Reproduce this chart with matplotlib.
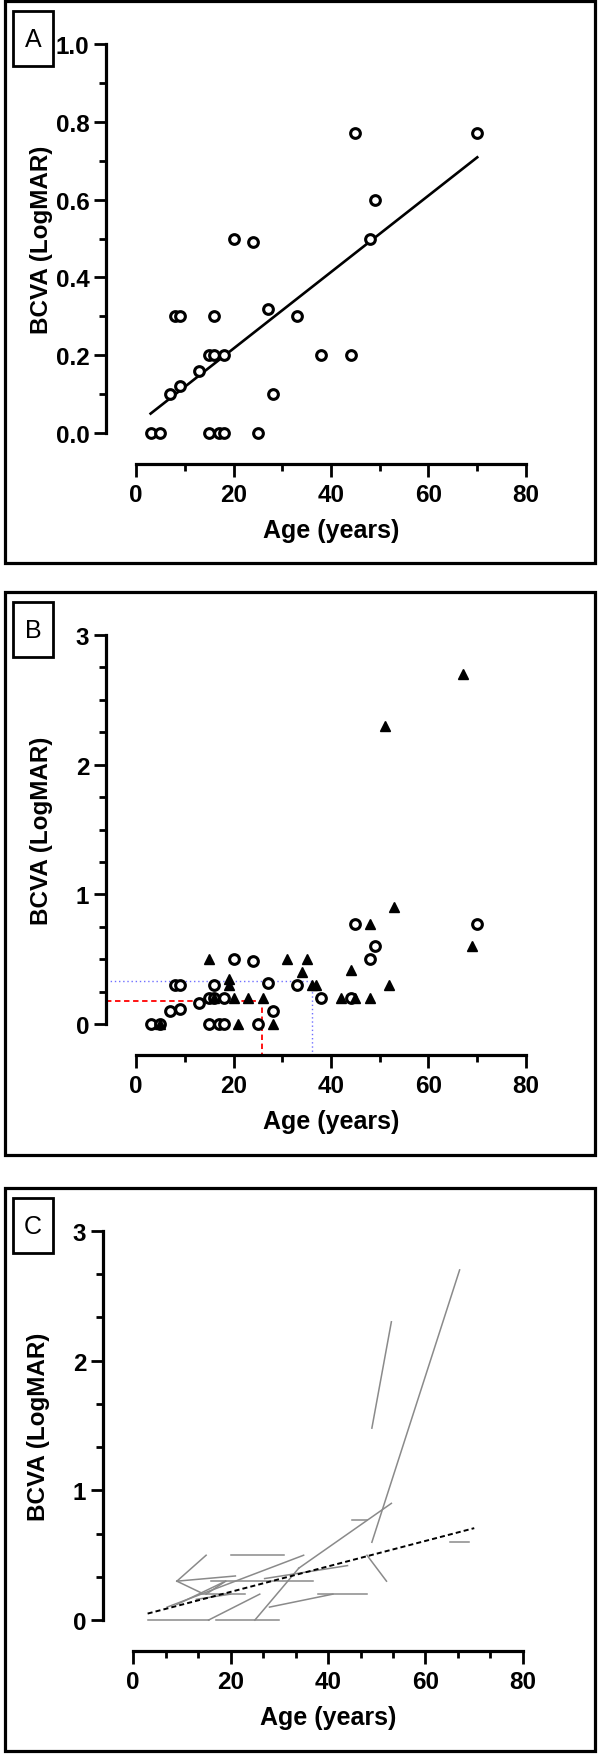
import matplotlib
matplotlib.use("Agg")

import matplotlib.pyplot as plt
import numpy as np
from matplotlib.patches import Rectangle
from matplotlib.ticker import MultipleLocator, FormatStrFormatter

plt.rcParams["font.family"] = ["Liberation Sans", "DejaVu Sans"]
plt.rcParams["font.weight"] = "bold"
plt.rcParams["axes.labelweight"] = "bold"

# first visit (panel A, circles in panel B)
age_first = [3, 5, 7, 8, 9, 9, 13, 15, 16, 16, 18, 15, 17, 18, 20, 24, 25,
             27, 28, 33, 38, 44, 45, 48, 49, 70]
bcva_first = [0.0, 0.0, 0.1, 0.3, 0.3, 0.12, 0.16, 0.2, 0.2, 0.3, 0.2, 0.0, 0.0,
              0.0, 0.5, 0.49, 0.0, 0.32, 0.1, 0.3, 0.2, 0.2, 0.77, 0.5, 0.6, 0.77]

# last visit (triangles in panel B)
age_last = [5, 21, 28, 15, 31, 35, 19, 19, 16, 20, 23, 26, 34, 36, 37, 42, 44,
            45, 48, 48, 52, 53, 51, 67, 69]
bcva_last = [0.0, 0.0, 0.0, 0.5, 0.5, 0.5, 0.35, 0.3, 0.2, 0.2, 0.2, 0.2, 0.4,
             0.3, 0.3, 0.2, 0.42, 0.2, 0.2, 0.77, 0.3, 0.9, 2.3, 2.7, 0.6]

# guide lines in panel B: (age, bcva)
guide_first = (25.9, 0.177)
guide_last = (36.2, 0.33)

# panel C: one segment per eye, start -> end
seg_age_start = [3, 15.5, 17, 25, 34, 28, 38, 9, 9, 9, 14, 7, 16, 27, 15, 20,
                 45, 48, 49, 49, 65, 9, 13]
seg_bcva_start = [0.0, 0.0, 0.0, 0.0, 0.4, 0.1, 0.2, 0.3, 0.3, 0.3, 0.2, 0.1, 0.3,
                  0.32, 0.2, 0.5, 0.77, 0.5, 0.6, 1.48, 0.6, 0.12, 0.16]
seg_age_end = [15.5, 26, 30, 34, 53, 41, 48, 15, 21, 14, 23, 35, 37, 44, 19, 31,
               48, 52, 67, 53, 69, 19, 20]
seg_bcva_end = [0.0, 0.2, 0.0, 0.4, 0.9, 0.2, 0.2, 0.5, 0.34, 0.21, 0.2, 0.5, 0.3,
                0.42, 0.3, 0.5, 0.77, 0.3, 2.7, 2.3, 0.6, 0.3, 0.2]

x_major = [0, 20, 40, 60, 80]
y_major_a = [0.0, 0.2, 0.4, 0.6, 0.8, 1.0]
y_major_bc = [0, 1, 2, 3]

W, H = 600, 1756
PX_PER_YEAR = 4.875

fig = plt.figure(figsize=(6, 17.56), dpi=100)


def px_box(left, top, right, bottom):
    return [left / W, 1 - bottom / H, (right - left) / W, (bottom - top) / H]


def panel_frame(top, bottom, letter):
    # outer frame of the panel and the boxed letter
    fig.add_artist(Rectangle((5 / W, 1 - bottom / H), 590 / W, (bottom - top) / H,
                             transform=fig.transFigure, fill=False,
                             edgecolor="black", linewidth=2.3))
    fig.add_artist(Rectangle((13 / W, 1 - (top + 65) / H), 40 / W, 55 / H,
                             transform=fig.transFigure, fill=False,
                             edgecolor="black", linewidth=2.0))
    fig.text(33 / W, 1 - (top + 38) / H, letter, ha="center", va="center",
             fontsize=18, fontweight="normal")


def make_axes(top, left, ymax, y_px_per_unit, y_minor, x_minor):
    ax = fig.add_axes(px_box(left, top + 43, left + 420, top + 463))
    ax.set_xlim(-30 / PX_PER_YEAR, 80)
    ax.set_ylim(-31 / y_px_per_unit, ymax)
    ax.patch.set_alpha(0)

    for side in ["top", "right"]:
        ax.spines[side].set_visible(False)
    ax.spines["left"].set_bounds(0, ymax)
    ax.spines["bottom"].set_bounds(0, 80)
    for side in ["left", "bottom"]:
        ax.spines[side].set_linewidth(2.3)

    ax.set_xticks(x_major)
    ax.xaxis.set_minor_locator(MultipleLocator(x_minor))
    ax.yaxis.set_minor_locator(MultipleLocator(y_minor))
    ax.tick_params(which="major", length=9, width=2.0, labelsize=17.5)
    ax.tick_params(which="minor", length=4.8, width=2.0)
    ax.tick_params(axis="x", which="major", pad=5)
    ax.tick_params(axis="y", which="major", pad=3)

    ax.set_xlabel("Age (years)", fontsize=18, va="center")
    ax.set_ylabel("BCVA (LogMAR)", fontsize=17.5, va="center")
    ax.xaxis.set_label_coords((40 + 30 / PX_PER_YEAR) / (80 + 30 / PX_PER_YEAR), -66 / 420)
    ax.yaxis.set_label_coords(-64 / 420, (463 - 237.5) / 420)
    return ax


circle_style = dict(linestyle="none", marker="o", markersize=7,
                    markerfacecolor="white", markeredgecolor="black",
                    markeredgewidth=2.2, clip_on=False, zorder=3)
triangle_style = dict(linestyle="none", marker="^", markersize=7.5,
                      color="black", clip_on=False, zorder=4)

# linear fit of the first-visit data (panel A and dashed line in C)
slope, intercept = np.polyfit(age_first, bcva_first, 1)
fit_x = np.array([min(age_first), max(age_first)])
fit_y = slope * fit_x + intercept

# ---- panel A ----
top_a = 2
panel_frame(top_a, 564, "A")
ax_a = make_axes(top_a, 106, 1.0, 390, 0.1, 10)
ax_a.set_yticks(y_major_a)
ax_a.yaxis.set_major_formatter(FormatStrFormatter("%.1f"))
ax_a.plot(fit_x, fit_y, color="black", linewidth=1.9, zorder=2)
ax_a.plot(age_first, bcva_first, **circle_style)

# ---- panel B ----
top_b = 593
panel_frame(top_b, 1156, "B")
ax_b = make_axes(top_b, 106, 3, 130, 0.25, 10)
ax_b.set_yticks(y_major_bc)
x0, y0 = ax_b.get_xlim()[0], ax_b.get_ylim()[0]
ax_b.plot([x0, guide_first[0], guide_first[0]], [guide_first[1], guide_first[1], y0],
          color="red", linewidth=1.3, linestyle=(0, (3, 2)), zorder=1)
ax_b.plot([x0, guide_last[0], guide_last[0]], [guide_last[1], guide_last[1], y0],
          color="#6f6fff", linewidth=1.0, linestyle=(0, (1, 2)), zorder=1)
ax_b.plot(age_first, bcva_first, **circle_style)
ax_b.plot(age_last, bcva_last, **triangle_style)

# ---- panel C ----
top_c = 1189
panel_frame(top_c, 1752, "C")
ax_c = make_axes(top_c, 103, 3, 130, 1 / 3, 20 / 3)
ax_c.set_yticks(y_major_bc)
for xs, ys, xe, ye in zip(seg_age_start, seg_bcva_start, seg_age_end, seg_bcva_end):
    ax_c.plot([xs, xe], [ys, ye], color="#8a8a8a", linewidth=1.1, zorder=2)
ax_c.plot(fit_x, fit_y, color="black", linewidth=1.4, linestyle=(0, (2.6, 1.6)), zorder=3)

fig.savefig("out.png", dpi=100, facecolor="white")
plt.close(fig)
